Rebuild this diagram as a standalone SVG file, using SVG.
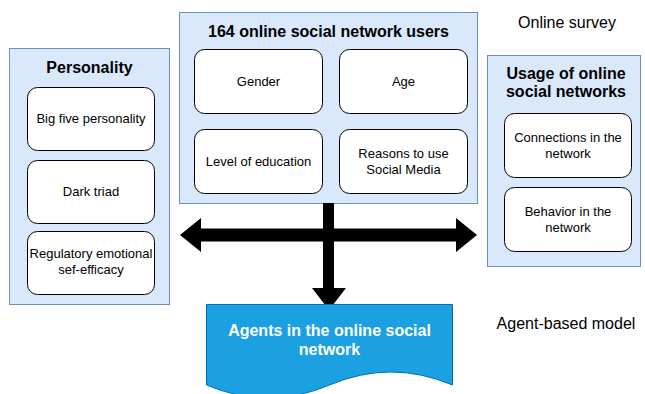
<svg xmlns="http://www.w3.org/2000/svg" width="645" height="394" viewBox="0 0 645 394">
<style>
.cont{fill:#dae8fc;stroke:#6c8ebf;stroke-width:1}
.box{fill:#ffffff;stroke:#000000;stroke-width:1}
text{font-family:"Liberation Sans",Arial,sans-serif;text-anchor:middle;fill:#000}
.title{font-size:16px;font-weight:bold}
.item{font-size:13px}
.lbl{font-size:16px}
.doc{font-size:16px;font-weight:bold;fill:#ffffff}
</style>
<rect x="0" y="0" width="645" height="394" fill="#ffffff"/>
<g id="personality">
<rect class="cont" x="9.5" y="48.5" width="160" height="256"/>
<text class="title" x="89.5" y="73">Personality</text>
</g>
<g id="big-five"><rect class="box" x="27.5" y="87.5" width="127" height="63" rx="10"/><text class="item" x="91" y="123">Big five personality</text></g>
<g id="dark-triad"><rect class="box" x="27.5" y="160.5" width="127" height="63" rx="10"/><text class="item" x="91" y="196">Dark triad</text></g>
<g id="regulatory"><rect class="box" x="27.5" y="231.5" width="127" height="63" rx="10"/><text class="item" x="91" y="258">Regulatory emotional</text><text class="item" x="91" y="274">sef-efficacy</text></g>

<g id="users">
<rect class="cont" x="179.5" y="12.5" width="298" height="191"/>
<text class="title" x="328.5" y="37">164 online social network users</text>
</g>
<g id="gender"><rect class="box" x="194.5" y="49.5" width="128" height="64" rx="10"/><text class="item" x="258.5" y="86">Gender</text></g>
<g id="age"><rect class="box" x="339.5" y="49.5" width="128" height="64" rx="10"/><text class="item" x="403.5" y="86">Age</text></g>
<g id="education"><rect class="box" x="194.5" y="129.5" width="128" height="64" rx="10"/><text class="item" x="258.5" y="166">Level of education</text></g>
<g id="reasons"><rect class="box" x="339.5" y="129.5" width="128" height="64" rx="10"/><text class="item" x="403.5" y="158">Reasons to use</text><text class="item" x="403.5" y="174">Social Media</text></g>

<g id="usage">
<rect class="cont" x="487.5" y="55.5" width="153" height="211"/>
<text class="title" x="566" y="79">Usage of online</text>
<text class="title" x="566" y="97">social networks</text>
</g>
<g id="connections"><rect class="box" x="504.5" y="113.5" width="127" height="64" rx="10"/><text class="item" x="568" y="142">Connections in the</text><text class="item" x="568" y="158">network</text></g>
<g id="behavior"><rect class="box" x="504.5" y="187.5" width="127" height="64" rx="10"/><text class="item" x="568" y="216">Behavior in the</text><text class="item" x="568" y="232">network</text></g>

<g id="connectors">
<polygon fill="#000" points="180,235 201,218 201,228.5 456,228.5 456,218 477,235 456,252 456,241.5 201,241.5 201,252"/>
<polygon fill="#000" points="323,203 334,203 334,288 346,288 329,310 312,288 323,288"/>
</g>

<g id="agents">
<path d="M206.5,304.5 L452.5,304.5 L452.5,385 Q391,359 329.5,385 Q268,411 206.5,385 Z" fill="#1ba1e2" stroke="#006eaf" stroke-width="1"/>
<text class="doc" x="329.5" y="336">Agents in the online social</text>
<text class="doc" x="329.5" y="355">network</text>
</g>

<g id="online-survey"><text class="lbl" x="567" y="28">Online survey</text></g>
<g id="agent-based"><text class="lbl" x="566" y="329">Agent-based model</text></g>
</svg>
